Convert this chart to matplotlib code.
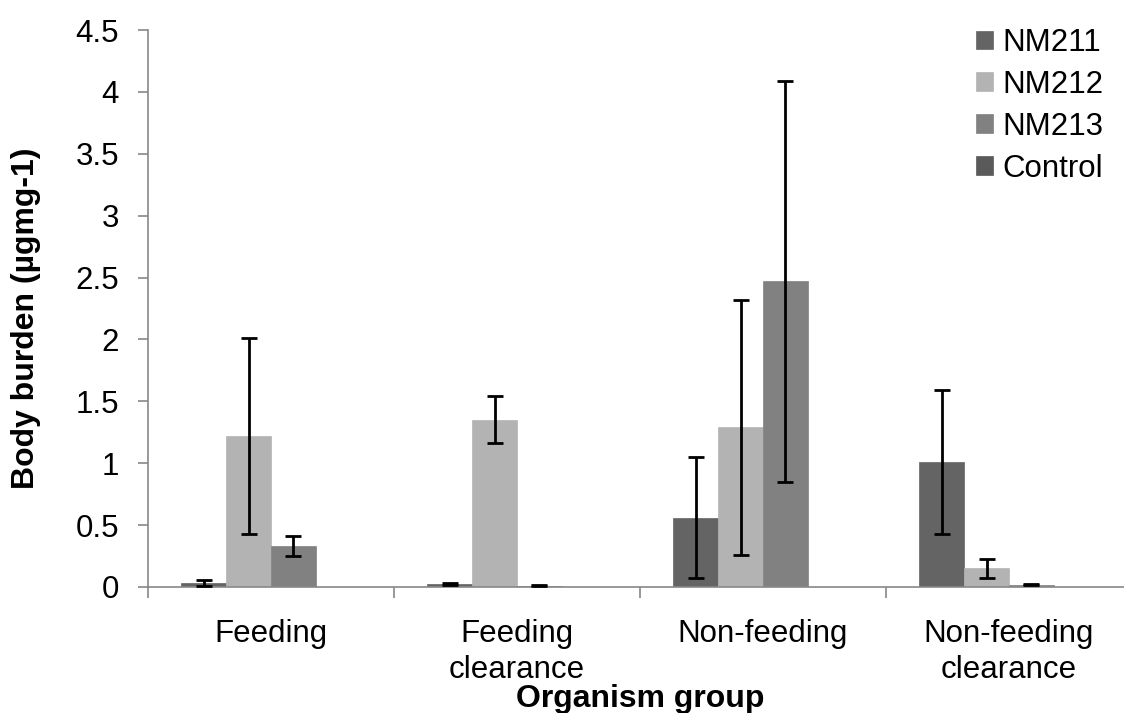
import matplotlib
matplotlib.use("Agg")
import matplotlib.pyplot as plt
import numpy as np

categories = ["Feeding", "Feeding\nclearance", "Non-feeding", "Non-feeding\nclearance"]
series = ["NM211", "NM212", "NM213", "Control"]
values = {
    "NM211": [0.03, 0.025, 0.56, 1.01],
    "NM212": [1.22, 1.35, 1.29, 0.15],
    "NM213": [0.33, 0.012, 2.47, 0.02],
    "Control": [0.004, 0.0, 0.0, 0.0],
}
errors = {
    "NM211": [0.025, 0.01, 0.49, 0.58],
    "NM212": [0.79, 0.19, 1.03, 0.08],
    "NM213": [0.08, 0.004, 1.62, 0.006],
    "Control": [0.0, 0.0, 0.0, 0.0],
}
colors = {"NM211": "#646464", "NM212": "#b3b3b3", "NM213": "#818181", "Control": "#5a5a5a"}
yticks = [0, 0.5, 1, 1.5, 2, 2.5, 3, 3.5, 4, 4.5]
ytick_labels = ["0", "0.5", "1", "1.5", "2", "2.5", "3", "3.5", "4", "4.5"]

plt.rcParams["font.family"] = ["Liberation Sans", "DejaVu Sans"]

W, H = 1124, 713
fig = plt.figure(figsize=(W / 100, H / 100), dpi=100)
left, right, bottom, top = 148, 1132, 587, 30
ax = fig.add_axes([left / W, 1 - bottom / H, (right - left) / W, (bottom - top) / H])

x = np.arange(len(categories))
bw = 0.182
handles = []
for i, s in enumerate(series):
    pos = x + (i - 1.5) * bw
    b = ax.bar(pos, values[s], bw, color=colors[s], edgecolor=colors[s], linewidth=0.5, zorder=2)
    handles.append(b)
    err = np.array(errors[s])
    mask = err > 0
    ax.errorbar(pos[mask], np.array(values[s])[mask], yerr=err[mask], fmt="none",
                ecolor="black", elinewidth=2, capsize=6, capthick=2, zorder=3)

ax.set_ylim(0, 4.5)
ax.set_xlim(-0.5, 3.5)
ax.set_yticks(yticks)
ax.set_yticklabels(ytick_labels, fontsize=22.5)

ax.set_xticks(np.arange(len(categories) + 1) - 0.5)
ax.set_xticklabels([])
ax.set_xticks(x, minor=True)
ax.set_xticklabels(categories, minor=True, fontsize=22.5, va="top", linespacing=1.25)
ax.tick_params(axis="x", which="minor", length=0, pad=23)
ax.tick_params(axis="x", which="major", length=8, color="#888888", width=1.2)
ax.tick_params(axis="y", length=7, color="#888888", width=1.2, pad=14)

for sp in ["top", "right"]:
    ax.spines[sp].set_visible(False)
for sp in ["left", "bottom"]:
    ax.spines[sp].set_color("#888888")
    ax.spines[sp].set_linewidth(1.2)

fig.text(26 / W, 1 - 318 / H, "Body burden (µgmg-1)", fontsize=23, fontweight="bold",
         rotation=90, ha="center", va="center")
fig.text(640 / W, 1 - 699 / H, "Organism group", fontsize=23, fontweight="bold",
         ha="center", va="center")

leg = fig.legend(handles, series, loc="upper left", bbox_to_anchor=(976 / W, 1 - 28 / H),
                 frameon=False, fontsize=22.5, handlelength=0.55, handleheight=0.55,
                 handletextpad=0.3, labelspacing=0.38, borderaxespad=0, borderpad=0)

fig.savefig("out.png", dpi=100)
